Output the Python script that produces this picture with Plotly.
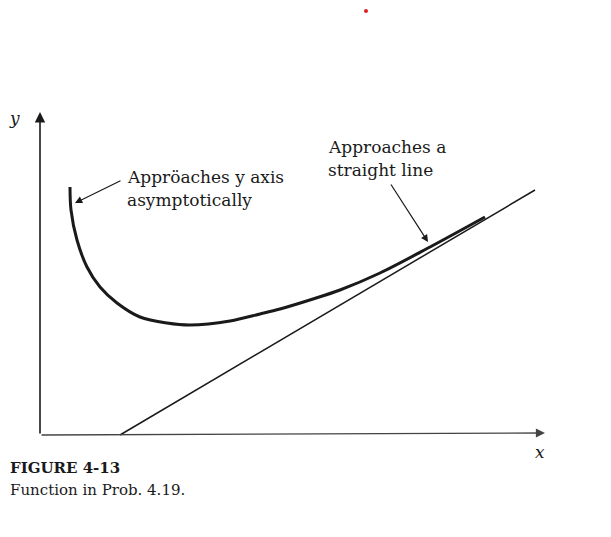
import plotly.graph_objects as go

# ---- data (units are arbitrary drawing units) ----
curve_x = [30, 31, 37, 47, 60, 77, 100, 127, 150, 190, 220, 240, 273, 300, 340, 390, 445]
curve_y = [248, 225, 195, 168, 148, 132, 118, 112, 110, 114, 121, 126, 136, 145, 162, 188, 218]
asym_x = [80, 495]
asym_y = [0, 245]
yaxis_top = 323
xaxis_end = 505

label_curve = ["Appröaches y axis", "asymptotically"]
label_line = ["Approaches a", "straight line"]
caption_title = "FIGURE 4-13"
caption_text = "Function in Prob. 4.19."

SERIF = "DejaVu Serif, Liberation Serif, serif"
INK = "#1a1a1a"

fig = go.Figure()

fig.add_trace(go.Scatter(x=curve_x, y=curve_y, mode="lines",
                         line=dict(color=INK, width=3.0, shape="spline", smoothing=0.9),
                         hoverinfo="skip", showlegend=False))
fig.add_trace(go.Scatter(x=asym_x, y=asym_y, mode="lines",
                         line=dict(color=INK, width=1.5),
                         hoverinfo="skip", showlegend=False))

annotations = []
# axes with arrowheads
annotations.append(dict(x=0, y=yaxis_top, ax=0, ay=0, xref="x", yref="y", axref="x", ayref="y",
                        text="", showarrow=True, arrowhead=2, arrowsize=1.3, arrowwidth=1.6,
                        arrowcolor=INK))
annotations.append(dict(x=xaxis_end, y=2, ax=0, ay=0, xref="x", yref="y", axref="x", ayref="y",
                        text="", showarrow=True, arrowhead=2, arrowsize=1.3, arrowwidth=1.4,
                        arrowcolor="#444"))
# pointer arrows
annotations.append(dict(x=35, y=232, ax=82, ay=255, xref="x", yref="y", axref="x", ayref="y",
                        text="", showarrow=True, arrowhead=2, arrowsize=1.2, arrowwidth=1.2,
                        arrowcolor=INK))
annotations.append(dict(x=388, y=193, ax=350, ay=252, xref="x", yref="y", axref="x", ayref="y",
                        text="", showarrow=True, arrowhead=2, arrowsize=1.2, arrowwidth=1.2,
                        arrowcolor=INK))
# texts
def txt(x, y, s, size=15, anchor="left"):
    annotations.append(dict(x=x, y=y, xref="x", yref="y", text=s, showarrow=False,
                            xanchor=anchor, yanchor="middle",
                            font=dict(family=SERIF, size=size, color=INK)))

txt(85, 258, label_curve[0], 17)
txt(85, 235, label_curve[1], 17)
txt(286, 288, label_line[0], 17)
txt(286, 265, label_line[1], 17)
txt(-26, 317, "<i>y</i>", 17, "center")
txt(500, -17, "<i>x</i>", 17, "center")
txt(-32, -33, "<b>" + caption_title + "</b>", 15)
txt(-32, -55, caption_text, 15)

fig.update_layout(
    width=611, height=537, autosize=False,
    margin=dict(l=0, r=0, t=0, b=0),
    paper_bgcolor="white", plot_bgcolor="white",
    xaxis=dict(range=[-32, 579], visible=False, fixedrange=True),
    yaxis=dict(range=[-110, 427], visible=False, fixedrange=True),
    annotations=annotations,
    shapes=[dict(type="circle", xref="x", yref="y", x0=324, x1=328, y0=422, y1=426,
                 fillcolor="#e02020", line=dict(width=0))],
)

fig.write_html("out.html")
